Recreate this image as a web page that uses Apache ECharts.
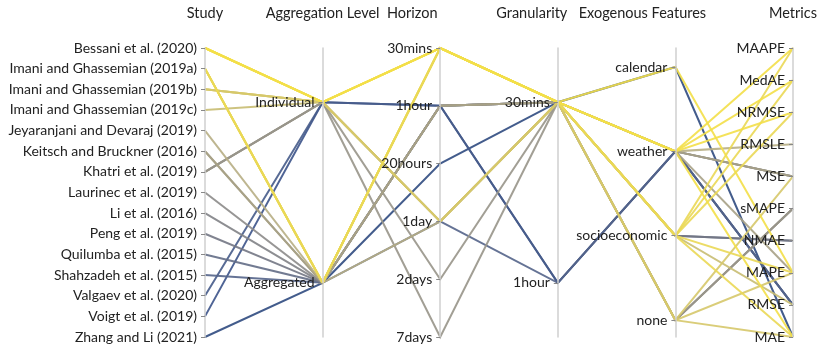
<!DOCTYPE html>
<html>
<head>
<meta charset="utf-8">
<script src="https://cdn.jsdelivr.net/npm/echarts@6/dist/echarts.min.js"></script>
<style>
  html, body { margin: 0; padding: 0; background: #fff; }
  #chart { width: 821px; height: 347px; }
</style>
</head>
<body>
<div id="chart"></div>
<script>
// Axis categories
const studies = [
  'Bessani et al. (2020)',
  'Imani and Ghassemian (2019a)',
  'Imani and Ghassemian (2019b)',
  'Imani and Ghassemian (2019c)',
  'Jeyaranjani and Devaraj (2019)',
  'Keitsch and Bruckner (2016)',
  'Khatri et al. (2019)',
  'Laurinec et al. (2019)',
  'Li et al. (2016)',
  'Peng et al. (2019)',
  'Quilumba et al. (2015)',
  'Shahzadeh et al. (2015)',
  'Valgaev et al. (2020)',
  'Voigt et al. (2019)',
  'Zhang and Li (2021)'
];
const aggLevels = ['Individual', 'Aggregated'];
const horizons = ['30mins', '1hour', '20hours', '1day', '2days', '7days'];
const granularities = ['30mins', '1hour'];
const exogFeatures = ['calendar', 'weather', 'socioeconomic', 'none'];
const metrics = ['MAAPE', 'MedAE', 'NRMSE', 'RMSLE', 'MSE', 'sMAPE', 'NMAE', 'MAPE', 'RMSE', 'MAE'];

// One row per (study, horizon, exogenous feature, metric) combination
const records = [
  ['Zhang and Li (2021)', 'Aggregated', '20hours', '30mins', 'calendar', 'MAE'],
  ['Voigt et al. (2019)', 'Individual', '1hour', '1hour', 'weather', 'RMSE'],
  ['Valgaev et al. (2020)', 'Individual', '1hour', '1hour', 'weather', 'RMSE'],
  ['Shahzadeh et al. (2015)', 'Aggregated', '1day', '1hour', 'weather', 'RMSE'],
  ['Quilumba et al. (2015)', 'Aggregated', '1hour', '30mins', 'socioeconomic', 'NMAE'],
  ['Peng et al. (2019)', 'Aggregated', '1hour', '30mins', 'socioeconomic', 'NMAE'],
  ['Li et al. (2016)', 'Aggregated', '1hour', '30mins', 'weather', 'MSE'],
  ['Laurinec et al. (2019)', 'Aggregated', '1hour', '30mins', 'weather', 'MSE'],
  ['Khatri et al. (2019)', 'Individual', '1day', '30mins', 'none', 'sMAPE'],
  ['Khatri et al. (2019)', 'Individual', '2days', '30mins', 'none', 'sMAPE'],
  ['Khatri et al. (2019)', 'Individual', '7days', '30mins', 'none', 'sMAPE'],
  ['Keitsch and Bruckner (2016)', 'Aggregated', '1hour', '30mins', 'weather', 'MAPE'],
  ['Keitsch and Bruckner (2016)', 'Aggregated', '1hour', '30mins', 'weather', 'MSE'],
  ['Jeyaranjani and Devaraj (2019)', 'Aggregated', '1day', '30mins', 'weather', 'RMSLE'],
  ['Imani and Ghassemian (2019c)', 'Individual', '1day', '30mins', 'socioeconomic', 'RMSE'],
  ['Imani and Ghassemian (2019b)', 'Individual', '1day', '30mins', 'none', 'MSE'],
  ['Imani and Ghassemian (2019b)', 'Individual', '1day', '30mins', 'none', 'MAPE'],
  ['Imani and Ghassemian (2019b)', 'Individual', '1day', '30mins', 'none', 'MAE'],
  ['Imani and Ghassemian (2019a)', 'Aggregated', '30mins', '30mins', 'socioeconomic', 'MAAPE'],
  ['Imani and Ghassemian (2019a)', 'Aggregated', '30mins', '30mins', 'socioeconomic', 'MedAE'],
  ['Imani and Ghassemian (2019a)', 'Aggregated', '30mins', '30mins', 'socioeconomic', 'NRMSE'],
  ['Imani and Ghassemian (2019a)', 'Aggregated', '30mins', '30mins', 'socioeconomic', 'MAPE'],
  ['Imani and Ghassemian (2019a)', 'Aggregated', '30mins', '30mins', 'socioeconomic', 'MAE'],
  ['Bessani et al. (2020)', 'Individual', '30mins', '30mins', 'weather', 'MAAPE'],
  ['Bessani et al. (2020)', 'Individual', '30mins', '30mins', 'weather', 'MedAE'],
  ['Bessani et al. (2020)', 'Individual', '30mins', '30mins', 'weather', 'NRMSE'],
  ['Bessani et al. (2020)', 'Individual', '30mins', '30mins', 'weather', 'MAE'],
  ['Bessani et al. (2020)', 'Individual', '30mins', '30mins', 'calendar', 'MAPE']
];

const axisLists = [studies, aggLevels, horizons, granularities, exogFeatures, metrics];
const axisNames = ['Study', 'Aggregation Level', 'Horizon', 'Granularity', 'Exogenous Features', 'Metrics'];
// value-axis extents (index space) for each dimension, axes run top-down
const axisExtents = [[0, 14], [-0.3, 1.3], [0, 5], [-0.3, 1.3], [-0.225, 3.2], [0, 9]];
const nameShift = [0, 0, 28, 26, 33, 0];

const FONT = 'Lato';

const rows = records.map(r => r.map((v, i) => axisLists[i].indexOf(v)));

const parallelAxis = axisLists.map((list, i) => {
  const ticks = list.map((_, k) => k);
  return {
    dim: i,
    name: axisNames[i],
    type: 'value',
    inverse: true,
    min: axisExtents[i][0],
    max: axisExtents[i][1],
    nameLocation: 'start',
    nameGap: 27,
    nameTruncate: { maxWidth: 400 },
    nameTextStyle: {
      fontFamily: FONT, fontSize: 14.5, color: '#222',
      padding: [0, nameShift[i] * 2, 0, 0]
    },
    axisLine: { lineStyle: { color: '#cfcfcf', width: 1.5 } },
    axisTick: { show: true, length: -4, lineStyle: { color: '#888' }, customValues: ticks },
    splitLine: { show: false },
    axisLabel: {
      fontFamily: FONT, fontSize: 14, color: '#222', margin: -8, align: 'right',
      customValues: ticks,
      formatter: v => list[Math.round(v)]
    }
  };
});

const chart = echarts.init(document.getElementById('chart'), null, { renderer: 'canvas' });
chart.setOption({
  animation: false,
  backgroundColor: '#fff',
  parallel: {
    left: 205, right: 28, top: 48, bottom: 10,
    layout: 'horizontal',
    parallelAxisDefault: { realtime: false }
  },
  parallelAxis,
  visualMap: {
    show: false,
    type: 'continuous',
    dimension: 0,
    min: 0, max: 14,
    inRange: {
      color: ['#f3df48', '#ead855', '#d6c86a', '#c8bc72', '#b7ae84', '#a7a186', '#98958a',
              '#8c8b89', '#818286', '#737784', '#636d86', '#546489', '#465b8a', '#3c538a', '#2f4a80']
    }
  },
  series: [{
    type: 'parallel',
    smooth: false,
    lineStyle: { width: 2, opacity: 0.9 },
    inactiveOpacity: 1,
    activeOpacity: 1,
    data: rows
  }]
});
</script>
</body>
</html>
